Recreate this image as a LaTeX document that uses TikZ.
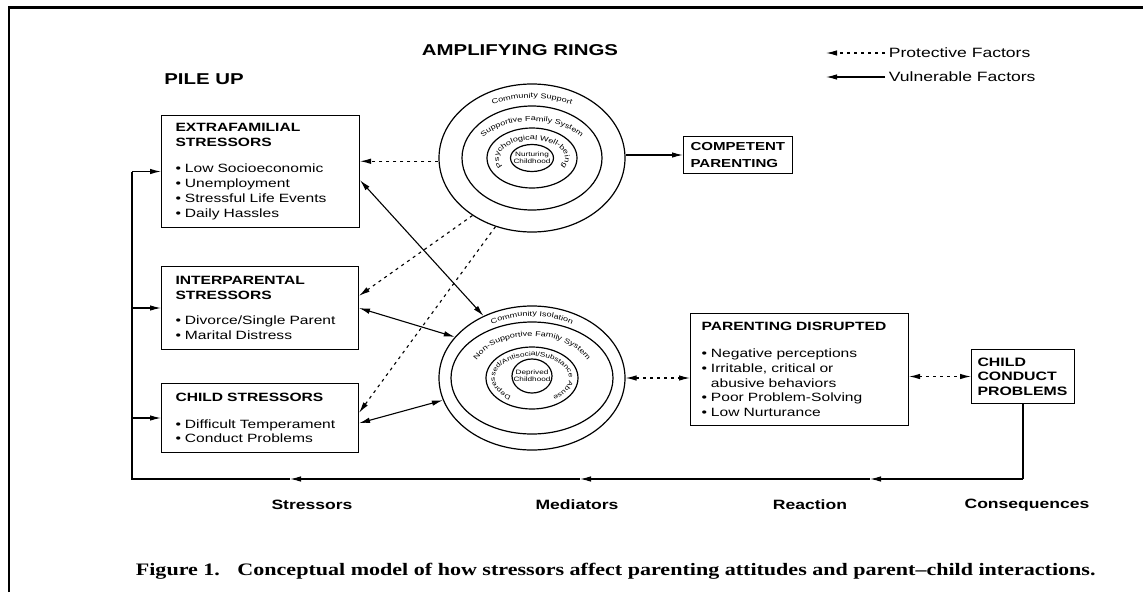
\documentclass[tikz,border=0pt]{standalone}
\usepackage{fontspec}
\setmainfont{Liberation Sans}[FakeStretch=1.3]
\newfontfamily\capfont{Liberation Serif}[FakeStretch=1.26]
\usetikzlibrary{positioning,shapes.geometric,arrows.meta,calc,decorations.text}

\newcommand{\boxfont}{\fontsize{12}{14.8}\selectfont}
\newcommand{\ringfont}{\fontsize{7}{7.6}\selectfont}

\begin{document}
\begin{tikzpicture}[x=1pt, y=1pt, line width=1.1pt, >={Latex[length=11pt,width=5.5pt]},
stressbox/.style={rectangle, draw, line width=1pt, align=left, inner ysep=3pt, font=\boxfont},
ringnode/.style={ellipse, draw, line width=1.2pt, inner sep=0pt},
protect/.style={dash pattern=on 3pt off 4pt},
headline/.style={font=\fontsize{15.7}{18}\selectfont\bfseries},
stagelabel/.style={font=\fontsize{13.5}{16}\selectfont\bfseries},
legendtext/.style={anchor=west, font=\fontsize{13.5}{16}\selectfont},
]
\useasboundingbox (0,0) rectangle (1143,-592);
%Frame
\draw[line width=2.2pt] (9,-592) -- (9,-7.5) -- (1143,-7.5);

%Headings and legend
\node[headline] (amp) at (520,-50) {AMPLIFYING RINGS};
\node[headline] (pile) at (204,-79) {PILE UP};
\node[legendtext] (prot) at (885,-53) {Protective Factors};
\node[legendtext] (vuln) at (885,-77) {Vulnerable Factors};
\coordinate (protend) at (826,-53);
\coordinate (vulnend) at (826,-77);
\draw[protect,->] (prot.west) -- (protend);
\draw[->] (vuln.west) -- (vulnend);

%Stressor boxes
\node[stressbox, anchor=north west, minimum width=198, minimum height=112, text width=170, inner xsep=14] (extra) at (161,-115)
  {\textbf{EXTRAFAMILIAL}\\\textbf{STRESSORS}\\[12pt]•~Low Socioeconomic\\•~Unemployment\\•~Stressful Life Events\\•~Daily Hassles};
\node[stressbox, anchor=north west, minimum width=197, minimum height=83, text width=169, inner xsep=14] (inter) at (161,-266)
  {\textbf{INTERPARENTAL}\\\textbf{STRESSORS}\\[11pt]•~Divorce/Single Parent\\•~Marital Distress};
\node[stressbox, anchor=north west, minimum width=197, minimum height=69, text width=169, inner xsep=14] (child) at (161,-383)
  {\textbf{CHILD STRESSORS}\\[12pt]•~Difficult Temperament\\•~Conduct Problems};

%Rings
\node[ringnode, minimum width=186, minimum height=148] (uout) at (532,-158) {};
\node[ringnode, minimum width=140, minimum height=104] (usec) at (532,-158) {};
\node[ringnode, minimum width=90, minimum height=60] (uthird) at (532,-158) {};
\node[ringnode, minimum width=43, minimum height=27] (uin) at (532,-158) {};
\node[font=\fontsize{6.3}{6.8}\selectfont, align=center, inner sep=0pt] (nurture) at (uin.center) {Nurturing\\Childhood};
\path[decorate, decoration={text along path, text align=center, text={|\ringfont|Community Support}}]
  ($(uout.center)+(160:85 and 60)$) arc[start angle=160, end angle=20, x radius=85, y radius=60];
\path[decorate, decoration={text along path, text align=center, text={|\ringfont|Supportive Family System}}]
  ($(uout.center)+(178:59 and 37)$) arc[start angle=178, end angle=2, x radius=59, y radius=37];
\path[decorate, decoration={text along path, text align=center, text={|\ringfont|Psychological Well-being}}]
  ($(uout.center)+(225:33 and 18)$) arc[start angle=225, end angle=-45, x radius=33, y radius=18];

\node[ringnode, minimum width=186, minimum height=144] (lout) at (532,-378) {};
\node[ringnode, minimum width=162, minimum height=112] (lsec) at (532,-378) {};
\node[ringnode, minimum width=92, minimum height=62] (lthird) at (532,-378) {};
\node[ringnode, minimum width=40, minimum height=34] (lin) at (532,-376) {};
\node[font=\fontsize{6.3}{6.8}\selectfont, align=center, inner sep=0pt] (deprived) at (lin.center) {Deprived\\Childhood};
\path[decorate, decoration={text along path, text align=center, text={|\ringfont|Community Isolation}}]
  ($(lout.center)+(160:79 and 62)$) arc[start angle=160, end angle=20, x radius=79, y radius=62];
\path[decorate, decoration={text along path, text align=center, text={|\ringfont|Non-Supportive Family System}}]
  ($(lout.center)+(178:61 and 42)$) arc[start angle=178, end angle=2, x radius=61, y radius=42];
\path[decorate, decoration={text along path, text align=center, text={|\fontsize{6.4}{7}\selectfont|Depressed/Antisocial/Substance Abuse}}]
  ($(lout.center)+(240:37 and 22)$) arc[start angle=240, end angle=-60, x radius=37, y radius=22];

%Outcome boxes
\node[stressbox, anchor=west, inner xsep=7, inner ysep=6, font=\fontsize{11.6}{17}\selectfont\bfseries] (comp) at (683,-155) {COMPETENT\\PARENTING};
\node[stressbox, anchor=north west, minimum width=218, minimum height=112, text width=196, inner xsep=11] (pd) at (690,-313)
  {\textbf{PARENTING DISRUPTED}\\[12pt]•~Negative perceptions\\•~Irritable, critical or\\\phantom{•~}abusive behaviors\\•~Poor Problem-Solving\\•~Low Nurturance};
\node[stressbox, anchor=north west, minimum width=103, minimum height=54, text width=91, inner xsep=6, font=\fontsize{12.2}{14.5}\selectfont\bfseries] (ccp) at (971,-349)
  {CHILD\\CONDUCT\\PROBLEMS};

%Stage labels
\node[stagelabel] (stress) at (312,-505) {Stressors};
\node[stagelabel] (media) at (577,-505) {Mediators};
\node[stagelabel] (react) at (810,-505) {Reaction};
\node[stagelabel] (conseq) at (1027,-505) {Consequences};
\node[anchor=west, font={\capfont\bfseries\fontsize{17.5}{20}\selectfont}] (caption) at (132,-571)
  {Figure 1.\quad Conceptual model of how stressors affect parenting attitudes and parent–child interactions.};

%Lines
\draw[->] (uout.east |- comp.west) -- (comp.west);
\draw[protect,->] (uout.182) -- (uout.182 -| extra.east);
\draw[protect,->] (uout.224) -- (inter.7);
\draw[protect,->] (uout.242) -- (child.3);
\draw[<->] (extra.-5) -- (lout.128);
\draw[<->] (inter.east) -- (lout.152);
\draw[<->] (child.-3) -- (lout.194);
\draw[protect,<->] (lout.east) -- (lout.east -| pd.west);
\draw[protect,<->] (pd.east |- ccp.west) -- (ccp.west);

%Feedback loop
\coordinate (fbr) at (ccp.south |- 0,-479);
\coordinate (fb3) at (870,-479);
\coordinate (fb2) at (580,-479);
\coordinate (fb1) at (290,-479);
\coordinate (fbl) at (132,-479);
\draw (ccp.south) -- (fbr);
\draw[->] (fbr) -- (fb3);
\draw[->] (fb3) -- (fb2);
\draw[->] (fb2) -- (fb1);
\draw (fb1) -- (fbl) -- (fbl |- extra.west);
\draw[->] (fbl |- extra.west) -- (extra.west);
\draw[->] (fbl |- inter.west) -- (inter.west);
\draw[->] (fbl |- child.west) -- (child.west);
\end{tikzpicture}
\end{document}
